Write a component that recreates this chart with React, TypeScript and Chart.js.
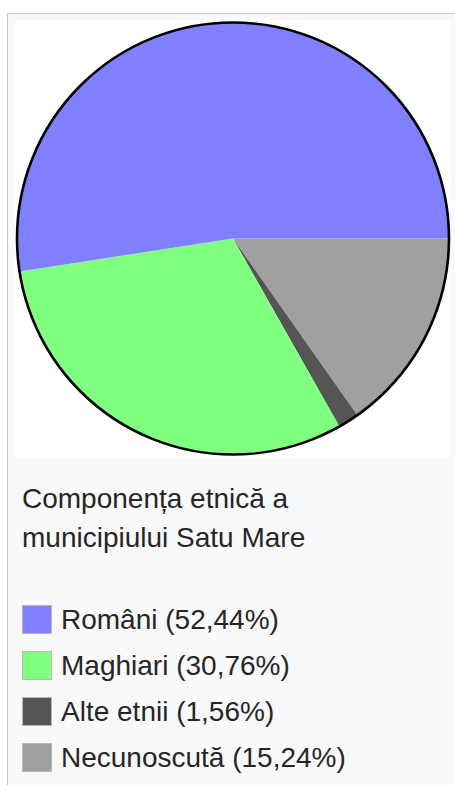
import React, { useEffect, useRef } from "react";
import { Chart, registerables } from "chart.js";

Chart.register(...registerables);

const categories = ["Români", "Maghiari", "Alte etnii", "Necunoscută"];
const values = [52.44, 30.76, 1.56, 15.24];
const valueLabels = ["52,44%", "30,76%", "1,56%", "15,24%"];
const colors = ["#8080ff", "#80ff80", "#555555", "#a0a0a0"];
const captionLines = ["Componența etnică a", "municipiului Satu Mare"];

const FONT = '"Liberation Sans", Arial, Helvetica, sans-serif';

const outlinePlugin = {
  id: "pieOutline",
  afterDatasetsDraw(chart: any) {
    const meta = chart.getDatasetMeta(0);
    const arc = meta && meta.data && meta.data[0];
    if (!arc) return;
    const ctx = chart.ctx;
    ctx.save();
    ctx.beginPath();
    ctx.arc(arc.x, arc.y, arc.outerRadius, 0, Math.PI * 2);
    ctx.lineWidth = 2.6;
    ctx.strokeStyle = "#000000";
    ctx.stroke();
    ctx.restore();
  },
};

function PieChart() {
  const ref = useRef<HTMLCanvasElement | null>(null);
  useEffect(() => {
    if (!ref.current) return;
    // slices run counter-clockwise from 3 o'clock in the original; Chart.js draws clockwise,
    // so feed them in reverse order starting at 90°.
    const order = [...values.keys()].reverse();
    const chart = new Chart(ref.current, {
      type: "pie",
      data: {
        labels: order.map((i) => categories[i]),
        datasets: [
          {
            data: order.map((i) => values[i]),
            backgroundColor: order.map((i) => colors[i]),
            borderWidth: 0,
          },
        ],
      },
      options: {
        responsive: false,
        animation: false,
        rotation: 90,
        layout: { padding: 2 },
        plugins: {
          legend: { display: false },
          tooltip: { enabled: false },
          title: { display: false },
        },
      },
      plugins: [outlinePlugin],
    });
    return () => chart.destroy();
  }, []);
  return <canvas ref={ref} width={436} height={437} style={{ display: "block", width: 436, height: 437 }} />;
}

export default function App() {
  return (
    <div style={{ position: "fixed", inset: 0, overflow: "hidden", background: "#ffffff", fontFamily: FONT }}>
      <div
        style={{
          position: "absolute",
          left: 7,
          top: 13,
          width: 470,
          height: 800,
          border: "1px solid #c8ccd1",
          background: "#f8f9fa",
          boxSizing: "border-box",
        }}
      />
      <div style={{ position: "absolute", left: 15, top: 20, width: 436, height: 437, background: "#ffffff" }}>
        <PieChart />
      </div>
      <div
        style={{
          position: "absolute",
          left: 22,
          top: 478.5,
          fontSize: 28,
          lineHeight: "39px",
          color: "#262626",
          whiteSpace: "nowrap",
        }}
      >
        {captionLines.map((l, i) => (
          <div key={i}>{l}</div>
        ))}
      </div>
      <div style={{ position: "absolute", left: 22, top: 596.5 }}>
        {categories.map((c, i) => (
          <div key={c} style={{ display: "flex", alignItems: "center", height: 46 }}>
            <div
              style={{
                width: 30,
                height: 29,
                boxSizing: "border-box",
                background: colors[i],
                border: "1px solid #b8b8b8",
                marginRight: 9,
              }}
            />
            <span style={{ fontSize: 28, lineHeight: "46px", color: "#262626", whiteSpace: "nowrap" }}>
              {c} ({valueLabels[i]})
            </span>
          </div>
        ))}
      </div>
    </div>
  );
}
